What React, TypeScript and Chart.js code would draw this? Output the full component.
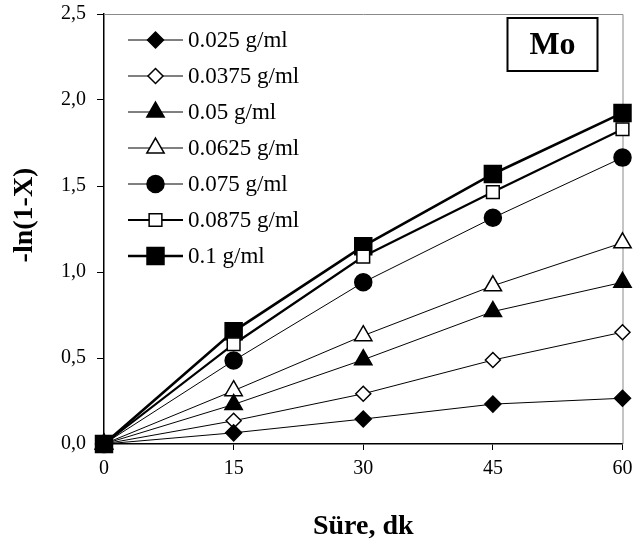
import React, { useEffect, useRef } from 'react';
import { Chart, registerables } from 'chart.js';
import { drawPoint } from 'chart.js/helpers';

Chart.register(...registerables);

// ---- data ----
const times = [0, 15, 30, 45, 60];
const seriesLabels = ['0.025 g/ml', '0.0375 g/ml', '0.05 g/ml', '0.0625 g/ml', '0.075 g/ml', '0.0875 g/ml', '0.1 g/ml'];
const s0025 = [0, 0.065, 0.145, 0.232, 0.266];
const s00375 = [0, 0.135, 0.292, 0.488, 0.65];
const s005 = [0, 0.23, 0.49, 0.77, 0.94];
const s00625 = [0, 0.31, 0.63, 0.92, 1.17];
const s0075 = [0, 0.485, 0.94, 1.315, 1.665];
const s00875 = [0, 0.58, 1.09, 1.465, 1.83];
const s01 = [0, 0.655, 1.15, 1.57, 1.925];
const seriesValues = [s0025, s00375, s005, s00625, s0075, s00875, s01];
const xTickValues = [0, 15, 30, 45, 60];
const yTickValues = [0, 0.5, 1, 1.5, 2, 2.5];
const yTickLabels = ['0,0', '0,5', '1,0', '1,5', '2,0', '2,5'];
const xTitle = 'Süre, dk';
const yTitle = '-ln(1-X)';
const panelLabel = 'Mo';

// ---- styles ----
const FONT = '"Liberation Serif", "Times New Roman", serif';
const markerStyles = [
  { ps: 'rectRot', r: 8, fill: '#000', lw: 1 },
  { ps: 'rectRot', r: 7.5, fill: '#fff', lw: 1 },
  { ps: 'triangle', r: 10, fill: '#000', lw: 1 },
  { ps: 'triangle', r: 10, fill: '#fff', lw: 1 },
  { ps: 'circle', r: 8.5, fill: '#000', lw: 1 },
  { ps: 'rect', r: 9, fill: '#fff', lw: 2.2 },
  { ps: 'rect', r: 12, fill: '#000', lw: 2.6 },
];

const decorPlugin = {
  id: 'decor',
  beforeDatasetsDraw(chart: any) {
    const { ctx, chartArea } = chart;
    ctx.save();
    ctx.strokeStyle = '#8a8a8a';
    ctx.lineWidth = 1;
    ctx.beginPath();
    ctx.moveTo(chartArea.left, chartArea.top + 0.5);
    ctx.lineTo(chartArea.right + 0.5, chartArea.top + 0.5);
    ctx.lineTo(chartArea.right + 0.5, chartArea.bottom);
    ctx.stroke();
    ctx.restore();
  },
  afterDraw(chart: any) {
    const { ctx, chartArea } = chart;
    ctx.save();
    // legend
    seriesLabels.forEach((lab, i) => {
      const ds = chart.data.datasets[i];
      const y = chartArea.top + 26 + i * 36;
      const x0 = chartArea.left + 24;
      ctx.strokeStyle = '#000';
      ctx.lineWidth = ds.borderWidth;
      ctx.beginPath();
      ctx.moveTo(x0, y);
      ctx.lineTo(x0 + 55, y);
      ctx.stroke();
      ctx.fillStyle = ds.pointBackgroundColor;
      ctx.strokeStyle = '#000';
      ctx.lineWidth = 1.5;
      drawPoint(ctx, { pointStyle: ds.pointStyle, radius: ds.pointRadius, rotation: 0, borderWidth: 1.5 } as any, x0 + 27.5, y);
      ctx.fillStyle = '#000';
      ctx.font = `23px ${FONT}`;
      ctx.textAlign = 'left';
      ctx.textBaseline = 'middle';
      ctx.fillText(lab, x0 + 60, y + 1);
    });
    // panel label box
    const bx = chartArea.right - 115;
    const by = chartArea.top + 4;
    ctx.fillStyle = '#fff';
    ctx.fillRect(bx, by, 90, 53);
    ctx.strokeStyle = '#000';
    ctx.lineWidth = 2;
    ctx.strokeRect(bx, by, 90, 53);
    ctx.fillStyle = '#000';
    ctx.font = `bold 32px ${FONT}`;
    ctx.textAlign = 'center';
    ctx.textBaseline = 'middle';
    ctx.fillText(panelLabel, bx + 45, by + 28);
    // y title
    ctx.translate(25, 215);
    ctx.rotate(-Math.PI / 2);
    ctx.font = `bold 28px ${FONT}`;
    ctx.fillText(yTitle, 0, 0);
    ctx.restore();
  },
};

export default function App() {
  const ref = useRef<HTMLCanvasElement | null>(null);
  useEffect(() => {
    document.body.style.margin = '0';
    const canvas = ref.current;
    if (!canvas) return;
    const datasets = seriesValues.map((vals, i) => ({
      label: seriesLabels[i],
      data: times.map((t, j) => ({ x: t, y: vals[j] })),
      borderColor: '#000',
      borderWidth: markerStyles[i].lw,
      pointStyle: markerStyles[i].ps,
      pointRadius: markerStyles[i].r,
      pointBackgroundColor: markerStyles[i].fill,
      pointBorderColor: '#000',
      pointBorderWidth: 1.5,
      fill: false,
      tension: 0,
      clip: false as any,
    }));
    const chart = new Chart(canvas, {
      type: 'line',
      data: { datasets: datasets as any },
      plugins: [decorPlugin],
      options: {
        responsive: false,
        animation: false,
        layout: { padding: { top: 14, right: 12, left: 0, bottom: 0 } },
        plugins: { legend: { display: false }, tooltip: { enabled: false } },
        scales: {
          x: {
            type: 'linear',
            min: 0,
            max: 60,
            afterBuildTicks: (s: any) => {
              s.ticks = xTickValues.map((v) => ({ value: v }));
            },
            afterFit: (s: any) => {
              s.height = 104;
              s.paddingLeft = 0;
              s.paddingRight = 0;
            },
            ticks: { color: '#000', font: { family: FONT, size: 20 }, padding: 7, maxRotation: 0 },
            grid: { drawOnChartArea: false, drawTicks: true, tickLength: 6, color: '#000', lineWidth: 1 },
            border: { color: '#000', width: 1.5 },
            title: {
              display: true,
              text: xTitle,
              color: '#000',
              font: { family: FONT, size: 28, weight: 'bold' },
              padding: { top: 0, bottom: 4 },
            },
          },
          y: {
            type: 'linear',
            min: 0,
            max: 2.5,
            afterBuildTicks: (s: any) => {
              s.ticks = yTickValues.map((v) => ({ value: v }));
            },
            afterFit: (s: any) => {
              s.width = 104;
              s.paddingTop = 0;
              s.paddingBottom = 0;
            },
            ticks: {
              color: '#000',
              font: { family: FONT, size: 20 },
              padding: 11,
              callback: (_v: any, i: number) => yTickLabels[i],
            },
            grid: { drawOnChartArea: false, drawTicks: true, tickLength: 7, color: '#000', lineWidth: 1 },
            border: { color: '#000', width: 1.5 },
          },
        },
      } as any,
    });
    return () => chart.destroy();
  }, []);
  return (
    <div style={{ width: 636, height: 548, background: '#fff' }}>
      <canvas ref={ref} width={636} height={548} />
    </div>
  );
}
